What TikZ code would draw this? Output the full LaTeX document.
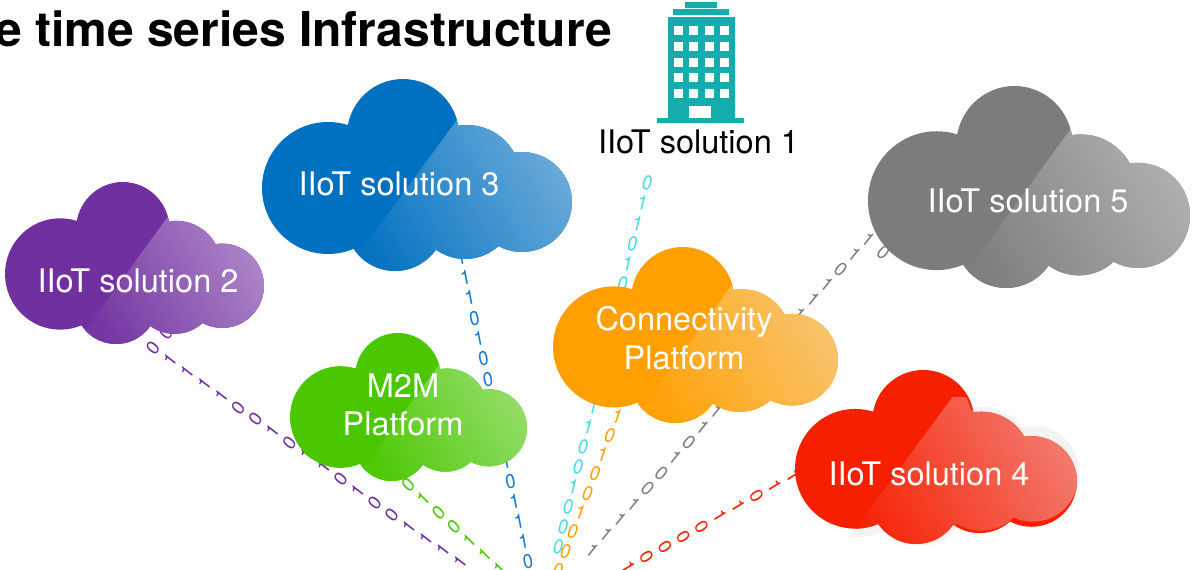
\documentclass[tikz,border=0pt]{standalone}
\usepackage{fontspec}
\setmainfont{TeX Gyre Heros}
\definecolor{purplebase}{HTML}{7030A0}
\definecolor{purplelite}{HTML}{B490CC}
\definecolor{bluebase}{HTML}{0070C0}
\definecolor{bluelite}{HTML}{78B2DC}
\definecolor{greenbase}{HTML}{4AC700}
\definecolor{greenlite}{HTML}{9CE076}
\definecolor{orangebase}{HTML}{FF9F00}
\definecolor{orangelite}{HTML}{F8C97C}
\definecolor{greybase}{HTML}{7C7C7C}
\definecolor{greylite}{HTML}{B6B6B6}
\definecolor{redbase}{HTML}{F61F00}
\definecolor{redlite}{HTML}{F27C70}
\definecolor{bitblue}{HTML}{0F78D2}
\definecolor{bitcyan}{HTML}{3FDCE4}
\definecolor{towerteal}{HTML}{14ACAC}
\definecolor{halogrey}{HTML}{F3F3F3}
\newcommand{\cloudlobes}{(66,109) circle [radius=66] (141,56) circle [radius=56]
  (133,142) circle [radius=50] (205,100) circle [radius=54]
  (203,130) circle [radius=50] (260,123) circle [radius=50]}
\newcommand{\cloudcut}{(203,30) -- (350,30) -- (350,200) -- (78,200) -- cycle}
\newcommand{\cloudblob}[7][0]{
  \begin{scope}[shift={(#2,#3)},xscale=#4/310,yscale=#5/192]
    \fill[#6] \cloudlobes;
    \clip \cloudlobes;
    \clip[rotate around={#1:(155,96)}] \cloudlobes;
    \shade[xshift={-10*#1},left color=#7!6!#6,right color=#7,shading angle=120] \cloudcut;
  \end{scope}}
\newcommand{\cloudhalo}[5]{
  \begin{scope}[shift={(#1,#2)},xscale=#3/310,yscale=#4/192]
    \clip[rotate around={2*#5:(155,96)}] \cloudlobes;
    \fill[xshift={-10*#5},halogrey] \cloudcut;
  \end{scope}}
\newcommand{\bitstream}[8]{
  \foreach \b [count=\i from 0] in {#8}
    \node (#1\i) [bit,#7,rotate=#6] at ({#2+\i*#4},{#3+\i*#5}) {\b};}
\begin{document}
\begin{tikzpicture}[x=1pt,y=-1pt,
    bit/.style = {inner sep=0pt, font=\fontsize{20}{20}\selectfont, xscale=.9},
    slanted/.style = {font=\fontsize{20}{20}\selectfont\itshape},
    label/.style = {inner sep=0pt, align=center, text=white,
      font=\fontsize{32.5}{38.5}\selectfont}]
  \useasboundingbox (0,0) rectangle (1192,570);
  \clip (0,0) rectangle (1192,570);

  \node (title) [anchor=base east, inner sep=0pt,
    font=\fontsize{48}{50}\selectfont\bfseries] at (612,46) {e time series Infrastructure};

  \fill[towerteal] (685,2) rectangle (717,8) (673,9) rectangle (729,15)
    (668,17) rectangle (735,118) (657,118) rectangle (744,123);
  \foreach \wx in {674,689,705,720}
    \foreach \wy in {26,42,58,73,89}
      \fill[white] (\wx,\wy) rectangle +(9,9);
  \fill[white] (689,106) rectangle (711,118);
  \node (solution1) [inner sep=0pt, font=\fontsize{32.5}{38}\selectfont] at (698.5,142) {IIoT solution 1};

  \bitstream{purplebits}{153}{348}{17.05}{11.9}{55}{purplebase}{0,1,1,1,1,0,0,1,0,1,1,0,1,0,0,1,1,1,1}
  \bitstream{purplestray}{166}{333}{0}{0}{55}{purplebase}{0}
  \bitstream{bluetop}{461}{257}{4.5}{20.4}{12}{bitblue}{1,1,1,0,1,0,0}
  \bitstream{bluelow}{506}{461}{4.4}{20.2}{12}{bitblue}{1,0,1,1,1,0}
  \bitstream{greenbits}{408}{485}{15.3}{13.9}{48}{greenbase}{0,1,0,0,1,1,1}
  \bitstream{cyantop}{647}{183}{-4.9}{20.2}{-3}{bitcyan,slanted}{0,1,1,0,1,0}
  \bitstream{cyanlow}{593}{407}{-5}{20}{-3}{bitcyan,slanted}{1,1,0,0,1,0,0,0}
  \bitstream{orangebits}{617}{416}{-7.4}{19.3}{-9}{orangebase,slanted}{1,0,1,0,0,1,0,0,0}
  \bitstream{greylow}{592}{550}{13.8}{-15.4}{-30}{greybase,slanted}{1,1,1,1,0,0,1,0,1,1}
  \bitstream{greytop}{799}{314}{13.8}{-15}{-30}{greybase,slanted}{1,1,1,0,1,1}
  \bitstream{greystray}{883}{252}{0}{0}{-30}{greybase,slanted}{0}
  \bitstream{redbits}{793}{476}{-18.3}{10.1}{-61}{redbase}{1,1,0,1,1,0,0,0,0,1}

  \cloudblob{5}{182}{259}{162}{purplebase}{purplelite}
  \cloudblob{262}{79}{310}{192}{bluebase}{bluelite}
  \cloudblob{290}{333}{237}{148}{greenbase}{greenlite}
  \cloudblob{553}{247}{285}{176}{orangebase}{orangelite}
  \cloudblob{868}{86}{322}{202}{greybase}{greylite}
  \cloudhalo{795}{370}{282}{174}{3}
  \cloudblob[3]{795}{370}{282}{174}{redbase}{redlite}

  \node (solution2) [label] at (138,281) {IIoT solution 2};
  \node (solution3) [label] at (399,184) {IIoT solution 3};
  \node (solution4) [label] at (929,474) {IIoT solution 4};
  \node (solution5) [label] at (1028,201) {IIoT solution 5};
  \node (m2m) [label] at (403,405) {M2M\\Platform};
  \node (connectivity) [label] at (684,338) {Connectivity\\Platform};
\end{tikzpicture}
\end{document}
